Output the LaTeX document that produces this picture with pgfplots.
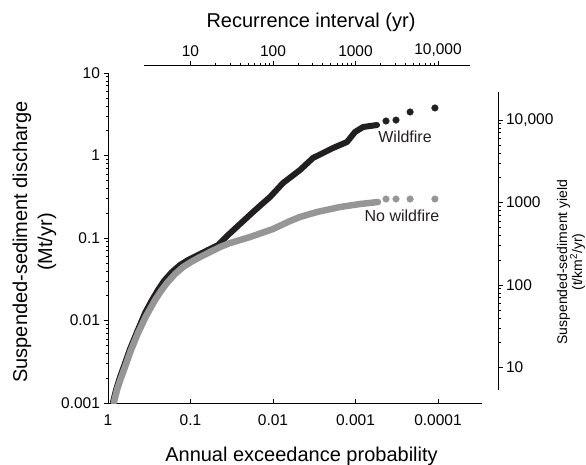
\documentclass[border=0pt]{standalone}
\usepackage{fontspec}
\setmainfont{Liberation Sans}
\usepackage{pgfplots}
\pgfplotsset{compat=1.18}
\definecolor{fireblack}{RGB}{35,31,32}
\definecolor{nofiregray}{RGB}{150,150,150}
\newcommand{\tickfont}{\fontsize{15.5}{18}\selectfont}
\pgfplotsset{
  base/.style={
    scale only axis,
    tick label style={font=\tickfont},
    axis line style={-, line width=0.8pt},
    tick style={line width=0.6pt, black},
    major tick length=4.5pt,
    minor tick length=2.5pt,
  },
  noarrows/.style={
    every outer x axis line/.append style={-},
    every outer y axis line/.append style={-},
    every inner x axis line/.append style={-},
    every inner y axis line/.append style={-},
    x axis line style={-},
    y axis line style={-},
  }
}
\begin{document}
\begin{tikzpicture}
\path[use as bounding box] (0pt,0pt) rectangle (586pt,-464pt);

% data + bottom axis (annual exceedance probability)
\begin{axis}[base,
  at={(108pt,-403pt)}, anchor=south west,
  width=374pt, height=330pt,
  xmode=log, ymode=log, x dir=reverse,
  xmin=2.93e-5, xmax=1, ymin=0.001, ymax=10,
  axis x line=bottom, axis y line=none, noarrows,
  tick align=inside,
  xtick={1,0.1,0.01,0.001,0.0001},
  xticklabels={1,0.1,0.01,0.001,0.0001},
  xticklabel style={yshift=-8pt},
]
% Wildfire (black)
\addplot[fireblack, line width=6pt, line join=round, line cap=round] coordinates {
(0.870,0.00103)(0.800,0.00144)(0.715,0.00207)(0.640,0.00281)(0.541,0.00452)
(0.445,0.00726)(0.356,0.01233)(0.293,0.0177)(0.248,0.0234)(0.210,0.0301)
(0.168,0.0387)(0.134,0.0471)(0.1072,0.0541)(0.0811,0.0622)(0.0614,0.0716)
(0.0464,0.0822)(0.0361,0.1057)(0.0251,0.1479)(0.01746,0.2066)(0.01359,0.2583)
(0.01087,0.314)(0.00757,0.464)(0.00471,0.667)(0.00328,0.933)(0.001875,1.233)
(0.001268,1.458)(0.001014,1.927)(0.000811,2.215)(0.000548,2.343)
};
\addplot[only marks, mark=*, mark size=3.3pt, fireblack] coordinates {
(0.000427,2.62)(0.000323,2.69)(0.000218,3.37)(0.000109,3.77)
};
% No wildfire (gray)
\addplot[nofiregray, line width=6.5pt, line join=round, line cap=round] coordinates {
(0.846,0.00103)(0.778,0.00144)(0.696,0.00201)(0.622,0.00273)(0.526,0.00439)
(0.433,0.00705)(0.346,0.0113)(0.269,0.0177)(0.228,0.0228)(0.193,0.0285)
(0.154,0.0366)(0.123,0.0445)(0.0986,0.0512)(0.0767,0.0588)(0.058,0.0677)
(0.0439,0.0778)(0.0332,0.0869)(0.019,0.1028)(0.01,0.1285)(0.00622,0.1607)
(0.00471,0.1798)(0.00293,0.2066)(0.00154,0.2376)(0.000882,0.2583)(0.000534,0.2731)
};
\addplot[only marks, mark=*, mark size=3.3pt, nofiregray, mark options={draw=nofiregray, fill=nofiregray}] coordinates {
(0.000427,0.297)(0.000323,0.297)(0.000218,0.297)(0.000109,0.297)
};
\node[font=\fontsize{16}{19}\selectfont, text=fireblack] at (axis cs:0.000251,1.675) {Wildfire};
\node[font=\fontsize{16}{19}\selectfont, text=fireblack] at (axis cs:0.000273,0.185) {No wildfire};
\end{axis}

% left axis (discharge)
\begin{axis}[base,
  at={(108pt,-403pt)}, anchor=south west,
  width=374pt, height=330pt,
  ymode=log, ymin=0.001, ymax=10, xmin=0, xmax=1,
  axis x line=none, axis y line=left, noarrows,
  tick align=outside,
  ytick={0.001,0.01,0.1,1,10},
  yticklabels={0.001,0.01,0.1,1,10},
]
\end{axis}

% top axis (recurrence interval)
\begin{axis}[base,
  at={(144pt,-65pt)}, anchor=north west,
  width=326pt, height=10pt,
  xmode=log, xmin=2.732, xmax=24430, ymin=0, ymax=1,
  axis x line=top, axis y line=none, noarrows,
  tick align=outside,
  xtick={10,100,1000,10000},
  xticklabels={10,100,1000,{10,000}},
]
\end{axis}

% right axis (yield)
\begin{axis}[base,
  at={(498pt,-390pt)}, anchor=south east,
  width=10pt, height=298pt,
  ymode=log, ymin=5.337, ymax=21850, xmin=0, xmax=1,
  axis y line=right, axis x line=none, noarrows,
  tick align=outside,
  ytick={10,100,1000,10000},
  yticklabels={10,100,1000,{10,000}},
  yticklabel style={anchor=west},
]
\end{axis}

% axis titles
\node[font=\fontsize{20}{24}\selectfont] at (301.5pt,-456pt) {Annual exceedance probability};
\node[font=\fontsize{20}{24}\selectfont] at (311pt,-22pt) {Recurrence interval (yr)};
\node[font=\fontsize{20}{25}\selectfont, align=center, rotate=90] at (34.5pt,-242pt) {Suspended-sediment discharge\\(Mt/yr)};
\node[font=\fontsize{14}{15}\selectfont, align=center, rotate=90, inner sep=0pt] at (571pt,-262pt) {Suspended-sediment yield\\(t/km\textsuperscript{2}/yr)};
\end{tikzpicture}
\end{document}
